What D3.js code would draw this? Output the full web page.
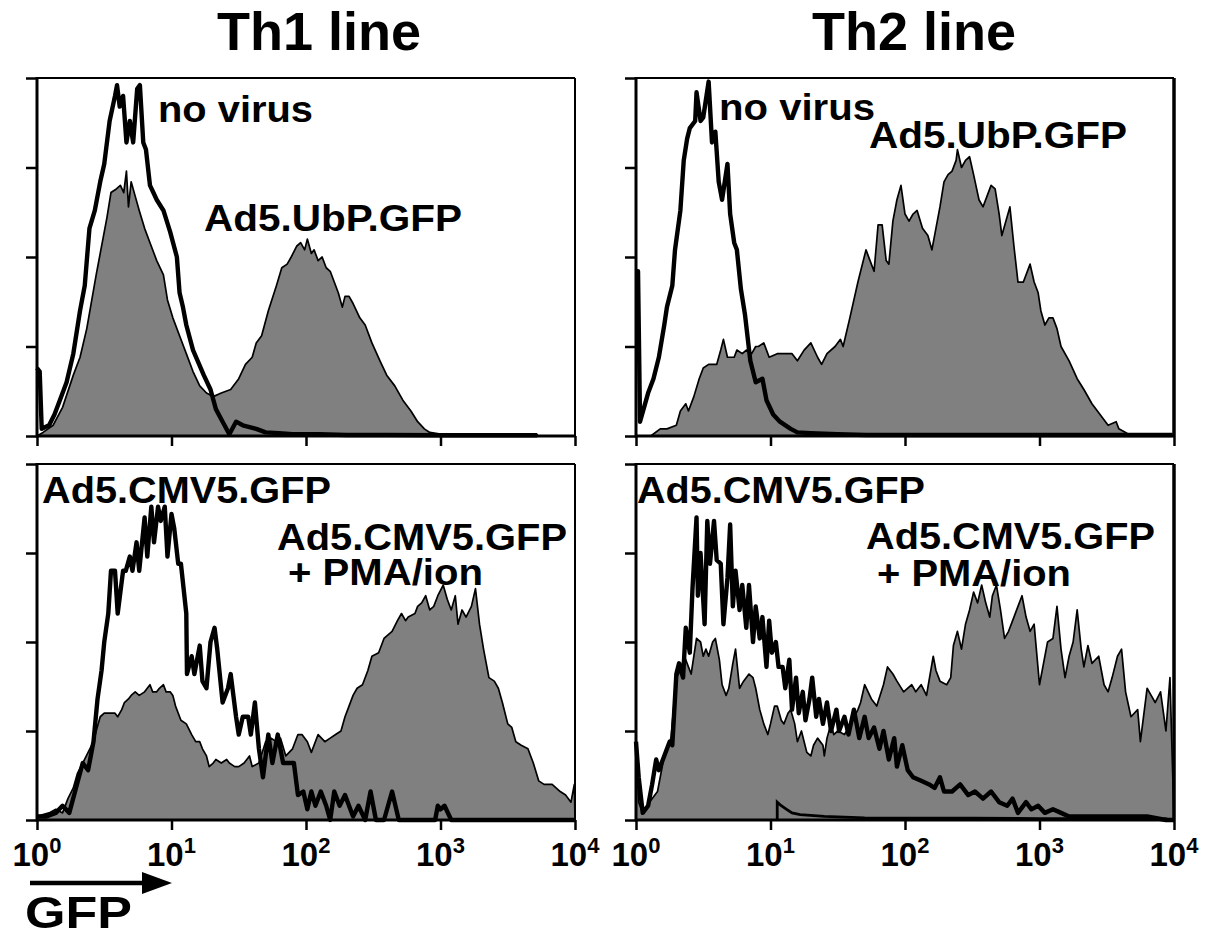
<!DOCTYPE html>
<html>
<head>
<meta charset="utf-8">
<script src="https://cdn.jsdelivr.net/npm/d3@7/dist/d3.min.js"></script>
<style>
  body { margin: 0; background: #fff; }
  text { font-family: "Liberation Sans", Arial, Helvetica, sans-serif; font-weight: bold; fill: #000; }
</style>
</head>
<body>
<svg id="chart" width="1209" height="938"></svg>
<script>
// histogram values: [log10 GFP, % of max count]
var decades = [0, 1, 2, 3, 4];
var countTicks = [0, 25, 50, 75, 100];
var columnTitles = ["Th1 line", "Th2 line"];

var th1NoVirus = [[0,19],[0.02,18],[0.035,2],[0.09,3],[0.13,6],[0.17,10],[0.22,15],[0.27,23],[0.32,35],[0.355,42],[0.39,58],[0.43,63],[0.47,71],[0.50,76],[0.54,88],[0.58,95],[0.595,98],[0.615,92],[0.64,95],[0.665,82],[0.69,88],[0.715,82],[0.745,97],[0.765,98],[0.79,82],[0.81,80],[0.84,70],[0.865,68],[0.89,66],[0.94,63],[0.99,57],[1.04,50],[1.06,40],[1.085,36],[1.11,31],[1.16,24],[1.24,17],[1.29,13],[1.33,7.5],[1.38,4],[1.43,0.5],[1.48,4],[1.53,3],[1.58,2.5],[1.63,2],[1.7,1],[1.8,0.8],[1.9,0.5],[2.1,0.5],[2.3,0.3],[2.6,0.3],[3.0,0.2],[3.4,0.2],[3.72,0.2]];

var th1UbP = [[0,0],[0.045,1],[0.12,3],[0.19,8],[0.27,17],[0.32,22],[0.37,30],[0.44,45],[0.52,61],[0.55,68],[0.59,69],[0.62,70],[0.645,68],[0.665,74],[0.68,64],[0.70,71],[0.73,67],[0.76,63],[0.80,58],[0.84,54],[0.89,49],[0.94,45],[0.97,38],[1.01,33],[1.06,28],[1.11,23],[1.16,18],[1.21,14],[1.26,12],[1.31,11],[1.37,12],[1.44,13],[1.5,16],[1.55,20],[1.6,22],[1.63,26],[1.67,28],[1.72,35],[1.78,42],[1.82,47],[1.86,48],[1.89,50],[1.93,53],[1.96,54],[1.99,52],[2.01,55],[2.04,51],[2.06,52],[2.09,49],[2.12,50],[2.15,47],[2.18,46],[2.21,43],[2.24,40],[2.27,36],[2.29,39],[2.32,39],[2.35,37],[2.40,33],[2.44,31],[2.49,26],[2.55,21],[2.60,17],[2.66,14],[2.72,10],[2.78,7],[2.83,4],[2.88,2],[2.92,1],[3.0,0.5],[3.5,0.3],[3.72,0.3],[3.72,0]];

var th2NoVirus = [[0,46],[0.015,46],[0.03,4],[0.06,8],[0.09,12],[0.13,16],[0.17,22],[0.21,31],[0.23,36],[0.27,42],[0.29,52],[0.33,63],[0.355,77],[0.38,83],[0.40,86],[0.44,88],[0.45,96],[0.48,88],[0.50,89],[0.54,99],[0.565,82],[0.59,85],[0.615,71],[0.64,66],[0.68,76],[0.70,62],[0.73,54],[0.75,52],[0.78,41],[0.81,34],[0.85,21],[0.89,15],[0.94,16],[0.97,10],[1.02,6],[1.07,4],[1.15,2],[1.2,1],[1.3,0.8],[1.5,0.5],[1.71,0.3],[2.0,0.3],[2.5,0.3],[3.0,0.3],[3.5,0.3],[3.99,0.3]];

var th2UbP = [[0.11,0],[0.18,2],[0.23,2],[0.30,3],[0.33,7],[0.37,9],[0.39,7],[0.43,11],[0.47,16],[0.50,19],[0.54,20],[0.60,20],[0.63,24],[0.65,27],[0.68,22],[0.73,22],[0.75,24],[0.79,23],[0.82,24],[0.86,23],[0.89,25],[0.91,25],[0.95,26],[0.99,22],[1.05,23],[1.10,23],[1.16,23],[1.20,21],[1.25,24],[1.30,26],[1.35,22],[1.38,20],[1.42,23],[1.48,25],[1.52,27],[1.54,25],[1.59,33],[1.65,43],[1.71,52],[1.74,49],[1.77,46],[1.80,59],[1.83,59],[1.86,49],[1.88,48],[1.91,60],[1.94,66],[1.97,70],[2.00,62],[2.03,60],[2.06,62],[2.09,63],[2.13,58],[2.17,56],[2.20,52],[2.23,58],[2.26,64],[2.29,71],[2.32,73],[2.35,74],[2.38,77],[2.39,80],[2.42,75],[2.45,77],[2.48,78],[2.51,73],[2.55,66],[2.58,64],[2.61,67],[2.64,70],[2.67,69],[2.70,62],[2.72,56],[2.75,60],[2.78,64],[2.81,53],[2.84,43],[2.88,43],[2.93,48],[2.96,43],[2.99,40],[3.01,35],[3.04,31],[3.07,33],[3.10,33],[3.13,30],[3.16,25],[3.22,21],[3.28,16],[3.33,13],[3.39,9],[3.45,6],[3.51,3],[3.57,4],[3.59,2],[3.64,1],[3.68,0]];

var th1Cmv = [[0,1],[0.07,1],[0.14,2],[0.19,4],[0.24,2],[0.29,9],[0.34,16],[0.38,14],[0.42,22],[0.45,34],[0.48,42],[0.50,50],[0.53,58],[0.55,70],[0.58,70],[0.60,58],[0.64,70],[0.66,70],[0.69,74],[0.71,70],[0.74,78],[0.76,70],[0.80,85],[0.82,74],[0.85,88],[0.87,78],[0.90,88],[0.92,84],[0.95,88],[0.97,74],[1.00,86],[1.02,82],[1.05,72],[1.07,72],[1.11,58],[1.115,41],[1.15,46],[1.17,41],[1.21,49],[1.23,39],[1.26,37],[1.29,50],[1.32,54],[1.34,48],[1.38,33],[1.42,37],[1.44,41],[1.48,29],[1.50,24],[1.53,29],[1.57,29],[1.59,24],[1.62,33],[1.65,20],[1.68,12],[1.72,24],[1.75,16],[1.79,24],[1.83,16],[1.88,16],[1.91,16],[1.94,7],[1.98,8],[2.01,3],[2.04,8],[2.07,4],[2.11,8],[2.15,4],[2.18,0],[2.21,8],[2.25,4],[2.29,7],[2.35,1],[2.39,4],[2.44,0],[2.48,8],[2.52,0],[2.58,0],[2.64,8],[2.69,0],[2.96,0],[2.98,4],[3.00,3],[3.03,4],[3.08,0],[4,0]];

var th1CmvPma = [[0,1],[0.09,2],[0.14,3],[0.19,2],[0.23,6],[0.27,9],[0.30,13],[0.34,16],[0.38,19],[0.42,22],[0.44,25],[0.47,29],[0.50,30],[0.54,30],[0.58,30],[0.60,29],[0.63,31],[0.65,33],[0.68,34],[0.70,35],[0.73,36],[0.76,35],[0.80,36],[0.84,38],[0.86,36],[0.89,36],[0.91,37],[0.94,38],[0.96,36],[0.99,36],[1.01,35],[1.03,32],[1.07,28],[1.11,27],[1.15,24],[1.18,22],[1.21,22],[1.23,20],[1.26,18],[1.28,15],[1.31,16],[1.33,17],[1.37,16],[1.41,17],[1.43,16],[1.47,15],[1.50,15],[1.54,16],[1.58,18],[1.60,15],[1.65,16],[1.70,22],[1.74,23],[1.78,22],[1.81,23],[1.85,18],[1.90,20],[1.94,24],[1.97,24],[2.01,22],[2.04,19],[2.09,24],[2.14,22],[2.18,23],[2.22,24],[2.26,25],[2.29,29],[2.32,32],[2.35,35],[2.38,37],[2.42,38],[2.46,42],[2.49,46],[2.54,47],[2.58,51],[2.61,52],[2.64,53],[2.68,56],[2.71,58],[2.74,56],[2.76,57],[2.81,58],[2.83,60],[2.86,61],[2.89,63],[2.92,59],[2.95,60],[2.98,63],[3.02,66],[3.05,62],[3.08,59],[3.11,63],[3.13,55],[3.16,59],[3.19,57],[3.23,60],[3.26,65],[3.29,55],[3.32,48],[3.36,40],[3.40,39],[3.43,37],[3.46,33],[3.50,27],[3.53,26],[3.56,22],[3.60,21],[3.65,20],[3.69,16],[3.73,11],[3.77,10],[3.83,10],[3.89,8],[3.93,7],[3.97,5],[3.995,10],[4,0]];

var th2Cmv = [[0,22],[0.02,12],[0.05,2],[0.09,4],[0.12,10],[0.15,17],[0.17,14],[0.21,18],[0.25,22],[0.27,21],[0.30,41],[0.32,44],[0.35,40],[0.37,54],[0.40,47],[0.42,65],[0.45,85],[0.46,63],[0.48,75],[0.51,55],[0.53,84],[0.55,72],[0.58,84],[0.60,73],[0.63,72],[0.65,55],[0.68,68],[0.70,83],[0.72,60],[0.74,70],[0.77,59],[0.79,66],[0.82,54],[0.84,66],[0.87,50],[0.89,60],[0.92,51],[0.94,57],[0.97,43],[0.99,56],[1.01,47],[1.04,50],[1.06,43],[1.09,43],[1.11,37],[1.14,45],[1.16,31],[1.19,40],[1.21,30],[1.24,36],[1.26,28],[1.29,34],[1.31,40],[1.34,29],[1.36,34],[1.39,27],[1.42,33],[1.45,25],[1.49,31],[1.51,25],[1.55,29],[1.58,24],[1.62,31],[1.66,23],[1.70,29],[1.73,23],[1.77,26],[1.81,20],[1.84,25],[1.88,17],[1.92,23],[1.94,15],[1.98,21],[2.02,14],[2.06,12],[2.12,11],[2.18,10],[2.22,9],[2.26,12],[2.29,8],[2.35,8],[2.41,10],[2.47,7],[2.52,8],[2.58,6],[2.64,8],[2.70,5],[2.76,4],[2.80,6],[2.84,2],[2.90,5],[2.94,3],[2.99,4],[3.04,2],[3.10,3],[3.16,2],[3.22,1],[3.33,1],[3.51,1],[3.65,1],[3.80,1],[3.94,0],[4,0]];

var th2CmvPma = [[0,20],[0.02,5],[0.05,2],[0.10,5],[0.16,8],[0.21,18],[0.26,23],[0.30,40],[0.33,42],[0.36,46],[0.41,41],[0.45,51],[0.48,50],[0.50,46],[0.52,48],[0.54,46],[0.57,50],[0.59,51],[0.62,45],[0.64,38],[0.67,35],[0.69,37],[0.72,44],[0.74,48],[0.77,37],[0.80,39],[0.84,41],[0.87,40],[0.89,37],[0.92,31],[0.95,27],[0.98,24],[1.00,27],[1.03,32],[1.05,32],[1.08,28],[1.10,27],[1.13,30],[1.15,31],[1.18,27],[1.20,22],[1.23,25],[1.25,22],[1.27,19],[1.30,18],[1.32,21],[1.35,23],[1.39,21],[1.40,18],[1.42,23],[1.45,27],[1.47,24],[1.50,25],[1.55,24],[1.58,26],[1.61,28],[1.65,31],[1.67,33],[1.70,38],[1.75,34],[1.79,32],[1.84,38],[1.87,43],[1.91,41],[1.94,39],[1.99,36],[2.05,38],[2.08,36],[2.12,38],[2.16,35],[2.21,46],[2.23,42],[2.26,39],[2.31,38],[2.34,40],[2.36,49],[2.39,53],[2.42,48],[2.45,55],[2.48,59],[2.51,64],[2.54,61],[2.57,66],[2.60,61],[2.63,57],[2.65,63],[2.68,66],[2.71,59],[2.74,51],[2.77,53],[2.81,57],[2.84,60],[2.87,63],[2.90,57],[2.93,53],[2.96,55],[3.00,38],[3.03,44],[3.06,50],[3.10,51],[3.13,60],[3.16,48],[3.19,40],[3.22,46],[3.25,50],[3.28,59],[3.31,48],[3.33,43],[3.36,49],[3.39,44],[3.44,46],[3.48,38],[3.51,36],[3.54,40],[3.58,46],[3.61,48],[3.64,36],[3.68,29],[3.73,31],[3.75,22],[3.80,37],[3.83,35],[3.86,33],[3.90,36],[3.94,25],[3.97,40],[4,0]];

var th2CmvTrace = [[1.05,0],[1.05,5],[1.08,4],[1.12,3],[1.16,2],[1.22,1.5],[1.4,1],[1.7,0.6],[2.0,0.5],[2.5,0.5],[3.0,0.4],[3.5,0.4],[3.95,0.3]];

var svg = d3.select("#chart");

// each label: lines of text, each with left x, baseline y, and measured width
var panels = [
  { left: 37, right: 575, top: 78, bottom: 436, fill: th1UbP, lines: [th1NoVirus], labelsX: false, rightW: 2,
    labels: [ [{ t: "no virus", x: 158, y: 122, w: 155 }], [{ t: "Ad5.UbP.GFP", x: 204, y: 231, w: 258 }] ] },
  { left: 636, right: 1174, top: 78, bottom: 436, fill: th2UbP, lines: [th2NoVirus], labelsX: false, rightW: 3.5,
    labels: [ [{ t: "no virus", x: 719, y: 120, w: 156 }], [{ t: "Ad5.UbP.GFP", x: 869, y: 148, w: 258 }] ] },
  { left: 37, right: 575, top: 464, bottom: 820, fill: th1CmvPma, lines: [th1Cmv], labelsX: true, rightW: 2,
    labels: [ [{ t: "Ad5.CMV5.GFP", x: 42, y: 503, w: 289 }],
              [{ t: "Ad5.CMV5.GFP", x: 277, y: 550, w: 290 }, { t: "+ PMA/ion", x: 288, y: 585, w: 195 }] ] },
  { left: 636, right: 1174, top: 464, bottom: 820, fill: th2CmvPma, lines: [th2Cmv], thin: th2CmvTrace, labelsX: true, rightW: 3.5,
    labels: [ [{ t: "Ad5.CMV5.GFP", x: 637, y: 503, w: 288 }],
              [{ t: "Ad5.CMV5.GFP", x: 866, y: 549, w: 289 }, { t: "+ PMA/ion", x: 877, y: 586, w: 194 }] ] }
];

panels.forEach(function (p) {
  var x = d3.scaleLinear().domain([0, 4]).range([p.left, p.right]);
  var y = d3.scaleLinear().domain([0, 100]).range([p.bottom, p.top]);
  var g = svg.append("g");

  var area = d3.area().x(function (d) { return x(d[0]); }).y0(y(0)).y1(function (d) { return y(d[1]); });
  var line = d3.line().x(function (d) { return x(d[0]); }).y(function (d) { return y(d[1]); });

  g.append("path").attr("d", area(p.fill)).style("fill", "#808080").style("stroke", "none");
  g.append("path").attr("d", line(p.fill)).style("fill", "none").style("stroke", "#000").style("stroke-width", 1.7).style("stroke-linejoin", "round");

  if (p.thin) {
    g.append("path").attr("d", line(p.thin)).style("fill", "none").style("stroke", "#000").style("stroke-width", 2.8);
  }

  p.lines.forEach(function (s) {
    g.append("path").attr("d", line(s)).style("fill", "none").style("stroke", "#000")
      .style("stroke-width", 4.4).style("stroke-linejoin", "round");
  });

  // axes ticks
  g.append("g").attr("transform", "translate(0," + p.bottom + ")")
    .call(d3.axisBottom(x).tickValues(decades).tickSize(10).tickFormat(""))
    .call(function (a) { a.select(".domain").remove(); a.selectAll("line").style("stroke-width", 2.5); });
  g.append("g").attr("transform", "translate(" + p.left + ",0)")
    .call(d3.axisLeft(y).tickValues(countTicks).tickSize(11).tickFormat(""))
    .call(function (a) { a.select(".domain").remove(); a.selectAll("line").style("stroke-width", 2.5); });

  // frame
  g.append("line").attr("x1", p.left).attr("x2", p.right).attr("y1", p.top).attr("y2", p.top).style("stroke", "#000").style("stroke-width", 2);
  g.append("line").attr("x1", p.right).attr("x2", p.right).attr("y1", p.top).attr("y2", p.bottom).style("stroke", "#000").style("stroke-width", p.rightW);
  g.append("line").attr("x1", p.left).attr("x2", p.left).attr("y1", p.top - 1).attr("y2", p.bottom + 1.5).style("stroke", "#000").style("stroke-width", 3);
  g.append("line").attr("x1", p.left).attr("x2", p.right + 1).attr("y1", p.bottom).attr("y2", p.bottom).style("stroke", "#000").style("stroke-width", 3);

  if (p.labelsX) {
    var tl = g.selectAll(".xl").data(decades).enter().append("text")
      .attr("x", function (d) { return x(d); }).attr("y", p.bottom + 46)
      .attr("text-anchor", "middle").style("font-size", "33px");
    tl.append("tspan").text("10");
    tl.append("tspan").attr("dy", -13).style("font-size", "22px").text(function (d) { return d; });
  }

  p.labels.forEach(function (rows) {
    var t = g.append("text").style("font-size", "36px");
    rows.forEach(function (l) {
      t.append("tspan").attr("x", l.x).attr("y", l.y).attr("textLength", l.w)
        .attr("lengthAdjust", "spacingAndGlyphs").text(l.t);
    });
  });
});

svg.selectAll(".title").data(columnTitles).enter().append("text")
  .attr("x", function (d, i) { return i === 0 ? 319 : 914; }).attr("y", 50)
  .attr("text-anchor", "middle").style("font-size", "54px").text(function (d) { return d; });

// GFP arrow
svg.append("line").attr("x1", 30).attr("x2", 146).attr("y1", 883).attr("y2", 883).style("stroke", "#000").style("stroke-width", 4.5);
svg.append("path").attr("d", "M142,872L172,883L142,894Z").style("fill", "#000");
svg.append("text").attr("x", 25).attr("y", 928).attr("textLength", 107).attr("lengthAdjust", "spacingAndGlyphs")
  .style("font-size", "45px").text("GFP");
</script>
</body>
</html>
